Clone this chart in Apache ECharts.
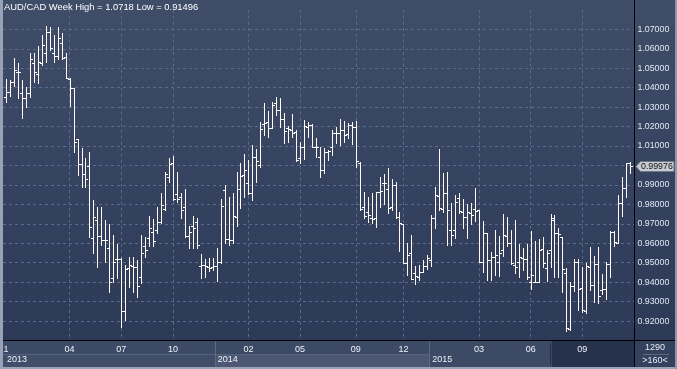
<!DOCTYPE html>
<html>
<head>
<meta charset="utf-8">
<script src="https://cdn.jsdelivr.net/npm/echarts@6/dist/echarts.min.js"></script>
<style>
html,body{margin:0;padding:0;background:#2f3c59;}
#chart{width:677px;height:369px;}
</style>
</head>
<body>
<div id="chart"></div>
<script>
// ---- data: weekly OHLC bars, AUD/CAD ----
const open = [
1.0350,1.0380,1.0431,1.0482,1.0371,1.0345,1.0371,1.0529,1.0470,1.0525,
1.0577,1.0688,1.0577,1.0563,1.0631,1.0560,1.0443,1.0397,1.0134,1.0010,
0.9956,0.9997,0.9625,0.9720,0.9637,0.9617,0.9574,0.9420,0.9517,0.9517,
0.9253,0.9471,0.9483,0.9480,0.9425,0.9586,0.9625,0.9660,0.9668,0.9711,
0.9774,0.9942,1.0014,0.9853,0.9836,0.9788,0.9637,0.9689,0.9711,0.9483,
0.9488,0.9480,0.9480,0.9483,0.9505,0.9874,0.9620,0.9617,0.9736,0.9879,
0.9951,0.9908,0.9857,1.0045,1.0002,1.0213,1.0224,1.0194,1.0319,1.0285,
1.0237,1.0191,1.0182,1.0174,1.0037,1.0093,1.0199,1.0208,1.0097,1.0045,
0.9977,1.0071,1.0097,1.0165,1.0165,1.0182,1.0162,1.0208,1.0199,1.0011,
0.9788,0.9762,0.9728,0.9728,0.9865,0.9908,0.9877,0.9785,0.9900,0.9737,
0.9699,0.9500,0.9552,0.9445,0.9428,0.9454,0.9483,0.9514,0.9728,0.9845,
0.9774,0.9860,0.9668,0.9668,0.9831,0.9762,0.9733,0.9754,0.9774,0.9771,
0.9505,0.9651,0.9514,0.9528,0.9505,0.9565,0.9637,0.9600,0.9488,0.9505,
0.9523,0.9517,0.9403,0.9403,0.9403,0.9569,0.9471,0.9565,0.9720,0.9651,
0.9631,0.9445,0.9157,0.9380,0.9505,0.9368,0.9254,0.9480,0.9384,0.9493,
0.9360,0.9363,0.9493,0.9660,0.9600,0.9809,0.9882,1.0011
];
const high = [
1.0443,1.0440,1.0551,1.0525,1.0440,1.0405,1.0577,1.0580,1.0614,1.0671,
1.0718,1.0710,1.0671,1.0712,1.0679,1.0577,1.0448,1.0397,1.0134,1.0088,
1.0040,1.0067,0.9822,0.9788,0.9788,0.9720,0.9699,0.9642,0.9596,0.9523,
0.9488,0.9531,0.9531,0.9514,0.9642,0.9634,0.9740,0.9723,0.9788,0.9860,
0.9965,1.0037,1.0049,0.9965,0.9857,0.9877,0.9689,0.9740,0.9728,0.9545,
0.9517,0.9523,0.9523,0.9574,0.9826,0.9900,0.9840,0.9860,0.9968,1.0011,
1.0059,1.0028,1.0105,1.0083,1.0225,1.0319,1.0282,1.0325,1.0354,1.0345,
1.0268,1.0203,1.0264,1.0182,1.0122,1.0234,1.0225,1.0213,1.0140,1.0097,
1.0088,1.0079,1.0182,1.0199,1.0237,1.0230,1.0220,1.0225,1.0230,1.0020,
0.9865,0.9840,0.9857,0.9865,0.9942,0.9956,0.9985,0.9930,0.9917,0.9762,
0.9699,0.9600,0.9642,0.9483,0.9488,0.9514,0.9540,0.9745,0.9887,1.0083,
0.9963,0.9968,0.9805,0.9848,0.9860,0.9826,0.9802,0.9809,0.9882,0.9771,
0.9716,0.9651,0.9557,0.9668,0.9637,0.9751,0.9733,0.9668,0.9720,0.9596,
0.9574,0.9596,0.9665,0.9613,0.9620,0.9634,0.9565,0.9751,0.9745,0.9677,
0.9634,0.9471,0.9403,0.9517,0.9517,0.9480,0.9500,0.9582,0.9534,0.9579,
0.9442,0.9505,0.9665,0.9665,0.9848,0.9939,1.0014,1.0018
];
const low = [
1.0328,1.0357,1.0409,1.0345,1.0242,1.0299,1.0354,1.0431,1.0426,1.0517,
1.0534,1.0594,1.0534,1.0546,1.0546,1.0448,1.0306,1.0071,0.9951,0.9891,
0.9887,0.9634,0.9548,0.9480,0.9591,0.9505,0.9351,0.9403,0.9420,0.9168,
0.9205,0.9377,0.9351,0.9325,0.9397,0.9528,0.9586,0.9586,0.9651,0.9703,
0.9771,0.9917,0.9822,0.9814,0.9728,0.9634,0.9574,0.9574,0.9574,0.9420,
0.9428,0.9459,0.9463,0.9408,0.9497,0.9600,0.9591,0.9600,0.9690,0.9779,
0.9840,0.9853,0.9822,0.9917,0.9994,1.0157,1.0148,1.0191,1.0259,1.0199,
1.0114,1.0122,1.0148,1.0024,1.0011,1.0031,1.0148,1.0097,1.0045,0.9939,
0.9959,1.0028,1.0054,1.0114,1.0105,1.0122,1.0140,1.0110,0.9994,0.9771,
0.9728,0.9711,0.9702,0.9682,0.9788,0.9802,0.9754,0.9771,0.9728,0.9562,
0.9497,0.9437,0.9414,0.9390,0.9411,0.9454,0.9466,0.9483,0.9677,0.9771,
0.9762,0.9591,0.9591,0.9625,0.9754,0.9677,0.9625,0.9699,0.9716,0.9505,
0.9454,0.9411,0.9411,0.9437,0.9432,0.9534,0.9586,0.9493,0.9449,0.9428,
0.9463,0.9414,0.9363,0.9403,0.9403,0.9480,0.9408,0.9480,0.9428,0.9428,
0.9351,0.91496,0.9154,0.9356,0.9257,0.9248,0.9243,0.9360,0.9300,0.9295,
0.9339,0.9312,0.9428,0.9586,0.9600,0.9740,0.9836,0.9959
];
const close = [
1.0380,1.0431,1.0491,1.0479,1.0345,1.0371,1.0546,1.0482,1.0530,1.0619,
1.0688,1.0602,1.0563,1.0654,1.0551,1.0448,1.0397,1.0122,1.0008,0.9958,
0.9929,0.9682,0.9733,0.9637,0.9617,0.9617,0.9403,0.9505,0.9517,0.9252,
0.9466,0.9488,0.9480,0.9380,0.9552,0.9565,0.9677,0.9613,0.9711,0.9797,
0.9956,1.0007,0.9826,0.9826,0.9771,0.9637,0.9660,0.9677,0.9590,0.9488,
0.9483,0.9471,0.9483,0.9505,0.9791,0.9620,0.9617,0.9740,0.9881,0.9946,
0.9977,0.9860,1.0045,1.0024,1.0186,1.0217,1.0191,1.0311,1.0285,1.0237,
1.0179,1.0186,1.0165,1.0028,1.0093,1.0203,1.0208,1.0097,1.0097,0.9977,
1.0071,1.0076,1.0165,1.0165,1.0182,1.0157,1.0208,1.0199,1.0025,0.9774,
0.9740,0.9745,0.9723,0.9865,0.9869,0.9911,0.9780,0.9900,0.9733,0.9702,
0.9497,0.9540,0.9414,0.9433,0.9454,0.9483,0.9522,0.9728,0.9848,0.9780,
0.9860,0.9771,0.9642,0.9814,0.9764,0.9733,0.9762,0.9745,0.9768,0.9505,
0.9651,0.9514,0.9528,0.9540,0.9552,0.9642,0.9600,0.9500,0.9476,0.9528,
0.9517,0.9428,0.9437,0.9403,0.9565,0.9497,0.9548,0.9728,0.9651,0.9648,
0.9466,0.9163,0.9380,0.9505,0.9363,0.9257,0.9483,0.9384,0.9493,0.9329,
0.9363,0.9493,0.9660,0.9608,0.9809,0.9882,1.0011,0.99976
];
// one category per weekly bar (Jan 2013 .. late 2015)
const categories = open.map((_, i) => 'w' + i);
// x-axis tick labels: bar index -> label
const monthTicks = {0:'1', 16:'04', 29:'07', 42:'10', 61:'02', 74:'05', 88:'09', 100:'12', 119:'03', 132:'06', 145:'09'};
const yearTicks = {0:'2013', 53:'2014', 107:'2015'};
const lastPrice = 0.99976;
const titleText = 'AUD/CAD Week High = 1.0718 Low = 0.91496';
const cornerTop = '1290';
const cornerBottom = '>160<';
const currentStart = 138; // first bar of highlighted (current) period

// ---- style ----
const FONT = 'Liberation Sans, Arial, sans-serif';
const BAR = '#fff8f3';
const GRIDC = '#5b6a88';

function renderItem(params, api) {
  const i = api.value(0);
  const pO = api.coord([i, api.value(1)]);
  const pC = api.coord([i, api.value(2)]);
  const pL = api.coord([i, api.value(3)]);
  const pH = api.coord([i, api.value(4)]);
  const px = Math.round(pO[0]);
  const x = px + 0.5;
  const yH = Math.round(pH[1]);
  const yL = Math.round(pL[1]) + 1;
  const yO = Math.round(pO[1]) + 0.5;
  const yC = Math.round(pC[1]) + 0.5;
  const st = {stroke: BAR, lineWidth: 1};
  return {type: 'group', children: [
    {type: 'line', shape: {x1: x, y1: yH, x2: x, y2: yL}, style: st},
    {type: 'line', shape: {x1: px - 2, y1: yO, x2: px, y2: yO}, style: st},
    {type: 'line', shape: {x1: px + 1, y1: yC, x2: px + 3, y2: yC}, style: st}
  ]};
}

const data = open.map((o, i) => [i, o, close[i], low[i], high[i]]);

const chart = echarts.init(document.getElementById('chart'), null, {renderer: 'canvas'});
const option = {
  animation: false,
  backgroundColor: '#2f3c59',
  title: {
    text: titleText, left: 4, top: 3, padding: 0,
    textStyle: {color: '#ffffff', fontSize: 9.4, fontWeight: 'normal', fontFamily: FONT}
  },
  grid: [
    {left: 6, right: 47, top: 9.85, bottom: 28.45},
    {left: 3, right: 43, top: 29.3, bottom: 28.45}
  ],
  xAxis: [
    {
      type: 'category', gridIndex: 0, position: 'bottom', data: categories, boundaryGap: false,
      axisLine: {show: false}, axisTick: {show: false},
      axisLabel: {
        interval: (i) => monthTicks[i] !== undefined,
        formatter: (v, i) => monthTicks[i] || '',
        color: (v, i) => (i >= currentStart ? '#8793aa' : '#eef2f8'),
        fontSize: 9, fontFamily: FONT, margin: 8.6, verticalAlign: 'middle'
      },
      splitLine: {
        show: true,
        interval: (i) => monthTicks[i] !== undefined && i > 0,
        lineStyle: {color: GRIDC, type: [3, 3], width: 1}
      }
    },
    {
      type: 'category', gridIndex: 0, position: 'bottom', data: categories, boundaryGap: false,
      axisLine: {show: false}, axisTick: {show: false}, splitLine: {show: false},
      axisLabel: {
        interval: (i) => yearTicks[i] !== undefined,
        formatter: (v, i) => yearTicks[i] || '',
        color: '#eef2f8', fontSize: 9, fontFamily: FONT, margin: 19.2,
        verticalAlign: 'middle', align: 'left', padding: [0, 0, 0, 1]
      }
    },
    {type: 'value', gridIndex: 1, show: false, min: 0, max: 1}
  ],
  yAxis: [
    {
      type: 'value', gridIndex: 0, position: 'right', min: 0.91, max: 1.08, interval: 0.01,
      axisLine: {show: false}, axisTick: {show: false}, splitLine: {show: false},
      axisLabel: {
        margin: 7.5, color: '#e3e9f2', fontSize: 8.8, fontFamily: FONT,
        formatter: (v) => (v < 0.9149 || v > 1.0751 || Math.abs(v - 1.0) < 1e-6) ? '' : v.toFixed(5)
      }
    },
    {
      type: 'value', gridIndex: 1, min: 0.91, max: 1.07, interval: 0.01,
      axisLine: {show: false}, axisTick: {show: false}, axisLabel: {show: false},
      splitLine: {show: true, lineStyle: {color: GRIDC, type: [3, 3], width: 1}}
    }
  ],
  series: [{
    type: 'custom', xAxisIndex: 0, yAxisIndex: 0, renderItem: renderItem,
    data: data, encode: {x: 0, y: [1, 2, 3, 4]}, z: 5, clip: false
  }]
};
chart.setOption(option);

// ---- frame / axis decorations positioned through the axis scales ----
const xp = (i) => chart.convertToPixel({xAxisIndex: 0}, categories[i]);
const edge = (i) => (xp(i - 1) + xp(i)) / 2;
const sep2014 = Math.round(edge(53));
const sep2015 = Math.round(edge(107));
const darkX = Math.round(edge(currentStart));
const yPrice = Math.round(chart.convertToPixel({yAxisIndex: 0}, lastPrice)) + 0.5;

const AX_TOP = 341, ROW_SPLIT = 354, AX_BOT = 367, PLOT_R = 634;
const bg = [];
bg.push({type: 'rect', z: -20, shape: {x: 0, y: 0, width: 677, height: 341},
  style: {fill: new echarts.graphic.LinearGradient(0, 0, 0, 1, [
    {offset: 0, color: '#3f4d69'}, {offset: 1, color: '#2c3a58'}])}});
bg.push({type: 'rect', z: -20, shape: {x: 3, y: AX_TOP, width: PLOT_R - 3, height: ROW_SPLIT - AX_TOP},
  style: {fill: '#3d4a65'}});
bg.push({type: 'rect', z: -20, shape: {x: 3, y: ROW_SPLIT, width: sep2014 - 3, height: AX_BOT - ROW_SPLIT},
  style: {fill: '#414e69'}});
bg.push({type: 'rect', z: -20, shape: {x: sep2014, y: ROW_SPLIT, width: sep2015 - sep2014, height: AX_BOT - ROW_SPLIT},
  style: {fill: '#4c5873'}});
bg.push({type: 'rect', z: -20, shape: {x: sep2015, y: AX_TOP, width: darkX - sep2015, height: AX_BOT - AX_TOP},
  style: {fill: '#3d4a65'}});
bg.push({type: 'rect', z: -20, shape: {x: darkX, y: AX_TOP, width: PLOT_R - darkX, height: AX_BOT - AX_TOP},
  style: {fill: '#26324c'}});
bg.push({type: 'rect', z: -20, shape: {x: PLOT_R, y: AX_TOP, width: 677 - PLOT_R, height: AX_BOT - AX_TOP},
  style: {fill: '#34415c'}});
// separators
bg.push({type: 'line', z: 50, shape: {x1: 3, y1: ROW_SPLIT + 0.5, x2: sep2015, y2: ROW_SPLIT + 0.5},
  style: {stroke: '#56637e', lineWidth: 1}});
bg.push({type: 'line', z: 50, shape: {x1: sep2014 + 0.5, y1: AX_TOP, x2: sep2014 + 0.5, y2: AX_BOT},
  style: {stroke: '#5d6a85', lineWidth: 1}});
bg.push({type: 'line', z: 50, shape: {x1: sep2015 + 0.5, y1: AX_TOP, x2: sep2015 + 0.5, y2: AX_BOT},
  style: {stroke: '#5d6a85', lineWidth: 1}});
bg.push({type: 'line', z: 50, shape: {x1: darkX - 1.5, y1: AX_TOP + 2, x2: darkX - 1.5, y2: AX_BOT - 2},
  style: {stroke: '#25304a', lineWidth: 1}});
// black axis lines
bg.push({type: 'line', z: 60, shape: {x1: 3, y1: 340.5, x2: 677, y2: 340.5}, style: {stroke: '#000', lineWidth: 1}});
bg.push({type: 'line', z: 60, shape: {x1: PLOT_R + 0.5, y1: 0, x2: PLOT_R + 0.5, y2: AX_BOT}, style: {stroke: '#000', lineWidth: 1}});
// outer frame
bg.push({type: 'rect', z: 60, shape: {x: 0, y: 0, width: 3, height: 369}, style: {fill: '#98a2b4'}});
bg.push({type: 'rect', z: 60, shape: {x: 0, y: AX_BOT, width: 677, height: 2}, style: {fill: '#9aa4b6'}});
bg.push({type: 'rect', z: 60, shape: {x: 675, y: 0, width: 2, height: 369}, style: {fill: '#8e98ab'}});
// corner texts
bg.push({type: 'text', z: 60, style: {text: cornerTop, x: 655, y: 347.5, align: 'center', verticalAlign: 'middle',
  fill: '#e6ebf3', font: '9px ' + FONT}});
bg.push({type: 'line', z: 60, shape: {x1: 643, y1: 354.5, x2: 669, y2: 354.5}, style: {stroke: '#5d6779', lineWidth: 1}});
bg.push({type: 'text', z: 60, style: {text: cornerBottom, x: 655, y: 361, align: 'center', verticalAlign: 'middle',
  fill: '#e6ebf3', font: '9px ' + FONT}});
// last price marker
bg.push({type: 'polygon', z: 70, shape: {points: [[636, yPrice], [640.5, yPrice - 5], [674, yPrice - 5], [674, yPrice + 5], [640.5, yPrice + 5]]},
  style: {fill: '#c7cbd2', stroke: '#6f7686', lineWidth: 1}});
bg.push({type: 'text', z: 71, style: {text: lastPrice.toFixed(5), x: 641, y: yPrice, align: 'left', verticalAlign: 'middle',
  fill: '#111', font: '8.8px ' + FONT}});

chart.setOption({graphic: {elements: bg}});
</script>
</body>
</html>
